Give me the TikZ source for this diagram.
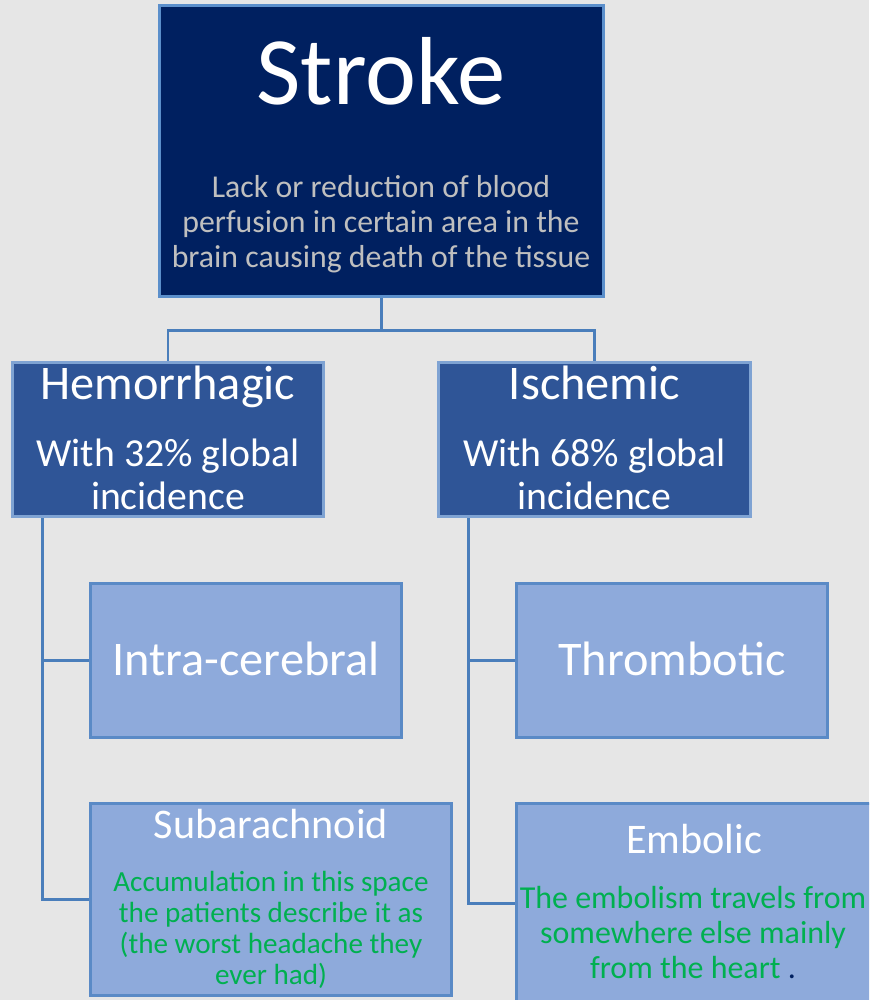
\documentclass[tikz,border=0pt]{standalone}
\usepackage{fontspec}
\setmainfont{Carlito}
\definecolor{pagebg}{HTML}{E6E6E6}
\definecolor{strokenavy}{HTML}{002060}
\definecolor{strokeedge}{HTML}{5B8FCB}
\definecolor{typefill}{HTML}{2F5597}
\definecolor{typeedge}{HTML}{7FA3D3}
\definecolor{subfill}{HTML}{8EAADB}
\definecolor{subedge}{HTML}{5A8AC6}
\definecolor{linkblue}{HTML}{4A7EBB}
\definecolor{descgray}{HTML}{BFBFBF}
\definecolor{notegreen}{HTML}{00B050}

\begin{document}
\begin{tikzpicture}[
    x=0.02cm, y=-0.02cm,
    topbox/.style={draw=strokeedge, fill=strokenavy, line width=1.7pt, minimum width=8.9cm, minimum height=5.84cm, inner sep=0pt},
    typebox/.style={draw=typeedge, fill=typefill, line width=1.7pt, minimum width=6.24cm, minimum height=3.1cm, inner sep=0pt},
    subbox/.style={draw=subedge, fill=subfill, line width=1.7pt, minimum width=6.24cm, minimum height=3.1cm, inner sep=0pt},
    link/.style={draw=linkblue, line width=1.7pt},
    title/.style={text=white, anchor=base, inner sep=0pt, align=center},
    note/.style={text=notegreen, anchor=base, inner sep=0pt, align=center}
  ]
    \clip (0,0) rectangle (869,1000);
    \fill[pagebg] (0,0) rectangle (869,1000);

    % boxes
    \node[topbox] (stroke) at (381.5,151) {};
    \node[typebox] (hemo) at (168,439.5) {};
    \node[typebox] (isch) at (594.5,439.5) {};
    \node[subbox] (intra) at (246,660.5) {};
    \node[subbox] (thromb) at (672,660.5) {};
    \node[subbox, minimum width=7.24cm, minimum height=3.86cm] (subar) at (271,899.5) {};
    \node[subbox, minimum width=7.12cm, minimum height=4.0cm] (embol) at (694,903) {};

    % texts (multi-line ones sit on their last line)
    \node[title, font=\fontsize{55}{60}\selectfont] (strokename) at (381,105) {Stroke};
    \node[title, text=descgray, font=\fontsize{18.1}{19.8}\selectfont] (strokedesc) at (381,267)
      {Lack or reduction of blood\\perfusion in certain area in the\\brain causing death of the tissue};
    \node[title, font=\fontsize{27.5}{30}\selectfont] (hemoname) at (168,399) {Hemorrhagic};
    \node[title, font=\fontsize{22.6}{24.4}\selectfont] (hemoinfo) at (168,509) {With 32\% global\\incidence};
    \node[title, font=\fontsize{27.5}{30}\selectfont] (ischname) at (594.5,399) {Ischemic};
    \node[title, font=\fontsize{22.6}{24.4}\selectfont] (ischinfo) at (594.5,509) {With 68\% global\\incidence};
    \node[title, font=\fontsize{27.5}{30}\selectfont] (intraname) at (246,675) {Intra-cerebral};
    \node[title, font=\fontsize{27.5}{30}\selectfont] (thrombname) at (672,675) {Thrombotic};
    \node[title, font=\fontsize{24}{28}\selectfont] (subarname) at (271,838) {Subarachnoid};
    \node[note, font=\fontsize{16.6}{17.6}\selectfont] (subarnote) at (271,984)
      {Accumulation in this space\\the patients describe it as\\(the worst headache they\\ever had)};
    \node[title, font=\fontsize{24}{28}\selectfont] (embolname) at (694,853) {Embolic};
    \node[note, font=\fontsize{18.2}{19.8}\selectfont] (embolnote) at (693,978)
      {The embolism travels from\\somewhere else mainly\\from the heart {\color{strokenavy}.}};

    % connectors
    \draw[link] (stroke.south) -- ++(0,32) -| (hemo.north);
    \draw[link] (stroke.south) -- ++(0,32) -| (isch.north);
    \draw[link] ([xshift=0.64cm]hemo.south west) |- (intra.west);
    \draw[link] ([xshift=0.64cm]hemo.south west) |- (subar.west);
    \draw[link] ([xshift=0.62cm]isch.south west) |- (thromb.west);
    \draw[link] ([xshift=0.62cm]isch.south west) |- (embol.west);
  \end{tikzpicture}
\end{document}
